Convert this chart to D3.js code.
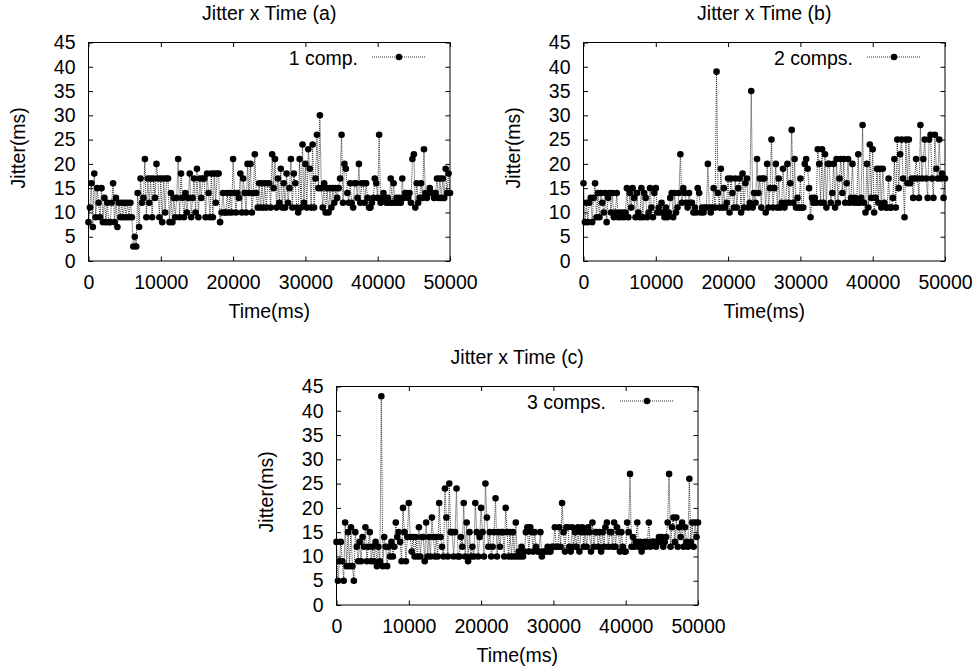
<!DOCTYPE html>
<html>
<head>
<meta charset="utf-8">
<script src="https://cdn.jsdelivr.net/npm/d3@7"></script>
<style>
  body { margin: 0; background: #fff; }
  svg { display: block; }
  text { font-family: "Liberation Sans", Arial, Helvetica, sans-serif; fill: #000; }
</style>
</head>
<body>
<script>
// jitter samples, one every 200 ms from 0 to 50000 ms
const sampleStepMs = 200;

const jitterA = [
  8, 11, 16, 7, 18,   9, 15, 12, 9, 15,   8, 13, 8, 12, 8,    8, 12, 16, 8, 13,   7, 12, 9, 12, 9,
  12, 9, 12, 9, 12,   9, 3, 5, 3, 14,     7, 17, 12, 13, 21,  9, 17, 12, 17, 9,   17, 13, 20, 17, 9,
  17, 8, 17, 10, 17,  17, 8, 14, 8, 13,   9, 13, 21, 9, 18,   13, 9, 14, 10, 13,  18, 9, 13, 17, 10,
  19, 9, 17, 13, 17,  17, 9, 18, 14, 9,   18, 9, 18, 12, 18,  18, 8, 10, 14, 10,  10, 14, 10, 14, 10,
  21, 14, 10, 14, 13, 18, 10, 17, 14, 10, 20, 14, 20, 10, 14, 22, 14, 11, 16, 11, 16, 11, 16, 11, 16,
  16, 11, 22, 15, 21, 11, 17, 12, 19, 11, 16, 11, 18, 12, 15, 21, 11, 18, 16, 11, 10, 21, 11, 24, 12,
  20, 11, 23, 19, 11, 24, 11, 17, 26, 15, 30, 15, 11, 16, 10, 15, 10, 15, 11, 15, 12, 15, 13, 15, 17,
  26, 12, 20, 19, 14, 12, 16, 12, 11, 16, 16, 13, 20, 12, 16, 16, 12, 16, 13, 11, 11, 12, 13, 17, 16,
  13, 26, 12, 13, 14, 13, 12, 13, 12, 17, 12, 16, 12, 13, 12, 13, 12, 17, 13, 14, 14, 13, 14, 12, 21,
  22, 11, 16, 12, 13, 16, 13, 23, 14, 13, 14, 15, 14, 14, 13, 14, 17, 13, 17, 13, 17, 13, 19, 14, 18,
  14
];

const jitterB = [
  16, 8, 12, 8, 12,   13, 8, 13, 16, 9,   14, 9, 14, 12, 10,  14, 8, 13, 14, 10,  14, 9, 10, 14, 9,
  10, 9, 10, 9, 10,   15, 9, 14, 11, 15,  13, 9, 14, 10, 9,   15, 9, 14, 13, 9,   10, 15, 11, 9, 14,
  15, 10, 11, 10, 12, 10, 9, 11, 9, 10,   13, 14, 9, 14, 10,  11, 14, 22, 12, 15, 14, 12, 11, 14, 12,
  12, 10, 11, 10, 15, 14, 10, 11, 10, 11, 11, 20, 11, 10, 11, 15, 11, 39, 14, 11, 19, 11, 15, 11, 12,
  17, 10, 17, 14, 11, 17, 11, 15, 17, 10, 18, 11, 16, 17, 11, 12, 35, 11, 14, 12, 21, 14, 17, 11, 17,
  17, 10, 20, 11, 15, 25, 11, 15, 20, 11, 17, 11, 12, 19, 11, 12, 20, 12, 16, 27, 12, 21, 11, 13, 11,
  17, 11, 11, 20, 21, 19, 15, 9, 13, 12,  13, 12, 23, 20, 12, 23, 12, 22, 11, 20, 20, 12, 14, 20, 11,
  21, 12, 17, 21, 14, 21, 12, 16, 21, 12, 13, 20, 12, 13, 12, 22, 12, 13, 28, 12, 10, 20, 11, 24, 13,
  23, 10, 13, 19, 12, 19, 11, 19, 12, 11, 11, 17, 11, 11, 13, 21, 11, 25, 15, 22, 25, 17, 9, 25, 16,
  25, 16, 17, 13, 17, 21, 17, 13, 28, 17, 21, 25, 17, 13, 25, 26, 17, 13, 26, 19, 17, 25, 17, 18, 13,
  17
];

const jitterC = [
  13, 5, 9, 13, 9,    5, 17, 8, 15, 8,    16, 8, 5, 15, 12,   9, 13, 9, 14, 12,   16, 9, 12, 15, 9,
  12, 9, 13, 8, 12,   9, 43, 8, 14, 12,   8, 12, 10, 13, 10,  12, 17, 14, 15, 13, 9, 20, 15, 9, 14,
  21, 14, 11, 14, 10, 14, 10, 16, 10, 14, 14, 9, 17, 10, 14,  10, 18, 14, 10, 14, 10, 21, 14, 12, 10,
  24, 18, 10, 25, 15, 15, 10, 15, 24, 10, 10, 14, 12, 21, 10, 17, 9, 15, 10, 12,  10, 21, 15, 10, 14,
  20, 15, 10, 25, 18, 12, 15, 10, 12, 15, 22, 10, 15, 12, 15, 15, 10, 20, 15, 10, 15, 10, 15, 10, 17,
  10, 11, 10, 12, 10, 11, 15, 16, 11, 16, 15, 11, 15, 12, 11, 11, 15, 10, 11, 11, 11, 12, 11, 11, 12,
  12, 16, 12, 12, 16, 12, 21, 15, 11, 16, 16, 12, 11, 16, 12, 15, 12, 16, 11, 15, 16, 12, 15, 12, 16,
  15, 11, 17, 12, 15, 15, 12, 15, 11, 15, 12, 16, 17, 12, 15, 15, 12, 17, 12, 16, 15, 11, 15, 12, 11,
  11, 17, 15, 27, 12, 14, 12, 13, 17, 12, 13, 11, 12, 13, 12, 13, 17, 12, 13, 13, 13, 12, 13, 14, 13,
  14, 12, 13, 14, 17, 27, 12, 16, 18, 13, 18, 12, 16, 14, 17, 12, 16, 13, 12, 26, 13, 17, 12, 17, 14,
  17
];

const xTicks = [0, 10000, 20000, 30000, 40000, 50000];
const yTicks = [0, 5, 10, 15, 20, 25, 30, 35, 40, 45];

const panels = [
  { title: 'Jitter x Time (a)', key: '1 comp.',  values: jitterA, left: 88.5,  top: 42.5 },
  { title: 'Jitter x Time (b)', key: '2 comps.', values: jitterB, left: 583.5, top: 42.5 },
  { title: 'Jitter x Time (c)', key: '3 comps.', values: jitterC, left: 336.5, top: 386.5 }
];

const plotW = 361.5, plotH = 218.5;
const fontSize = 19.5;
const tickLen = 4.5;

const svg = d3.select('body')
  .append('svg')
  .attr('width', 979)
  .attr('height', 671);

panels.forEach(p => {
  const g = svg.append('g')
    .attr('transform', 'translate(' + p.left + ',' + p.top + ')');

  const x = d3.scaleLinear().domain([0, 50000]).range([0, plotW]);
  const y = d3.scaleLinear().domain([0, 45]).range([plotH, 0]);

  const data = p.values.map((v, i) => ({ t: i * sampleStepMs, v: v }));

  // ejes: ticks hacia dentro en los cuatro lados, como gnuplot
  const bottom = g.append('g').attr('transform', 'translate(0,' + plotH + ')')
    .call(d3.axisBottom(x).tickValues(xTicks).tickSizeInner(-tickLen).tickSizeOuter(0).tickPadding(10).tickFormat(d3.format('d')));
  const top = g.append('g')
    .call(d3.axisTop(x).tickValues(xTicks).tickSizeInner(-tickLen).tickSizeOuter(0).tickFormat(''));
  const left = g.append('g')
    .call(d3.axisLeft(y).tickValues(yTicks).tickSizeInner(-tickLen).tickSizeOuter(0).tickPadding(12));
  const right = g.append('g').attr('transform', 'translate(' + plotW + ',0)')
    .call(d3.axisRight(y).tickValues(yTicks).tickSizeInner(-tickLen).tickSizeOuter(0).tickFormat(''));

  [bottom, top, left, right].forEach(a => {
    a.select('.domain').remove();
    a.selectAll('line').attr('stroke', '#000').attr('stroke-width', 1);
    a.selectAll('text')
      .style('font-size', fontSize + 'px')
      .style('font-family', '"Liberation Sans", Arial, sans-serif')
      .attr('fill', '#000');
  });
  bottom.selectAll('text').attr('dy', '0.71em').attr('y', 14);
  left.selectAll('text').attr('x', -13);

  // serie: puntos unidos con linea punteada
  const line = d3.line().x(d => x(d.t)).y(d => y(d.v));
  g.append('path')
    .datum(data)
    .attr('d', line)
    .attr('fill', 'none')
    .attr('stroke', '#333')
    .attr('stroke-width', 1)
    .attr('stroke-dasharray', '1,1');

  g.append('g')
    .selectAll('circle')
    .data(data)
    .enter()
    .append('circle')
    .attr('cx', d => x(d.t))
    .attr('cy', d => y(d.v))
    .attr('r', 3.3)
    .attr('fill', '#000');

  // borde del area de trazado
  g.append('rect')
    .attr('width', plotW)
    .attr('height', plotH)
    .attr('fill', 'none')
    .attr('stroke', '#000')
    .attr('stroke-width', 1);

  // leyenda
  g.append('text')
    .attr('x', plotW - 92)
    .attr('y', 22)
    .attr('text-anchor', 'end')
    .style('font-size', fontSize + 'px')
    .text(p.key);
  g.append('line')
    .attr('x1', plotW - 78).attr('x2', plotW - 24)
    .attr('y1', 14.5).attr('y2', 14.5)
    .attr('stroke', '#333')
    .attr('stroke-dasharray', '1,1');
  g.append('circle')
    .attr('cx', plotW - 51).attr('cy', 14.5).attr('r', 3.3)
    .attr('fill', '#000');

  // titulo y etiquetas de ejes
  g.append('text')
    .attr('x', plotW / 2)
    .attr('y', -23)
    .attr('text-anchor', 'middle')
    .style('font-size', fontSize + 'px')
    .text(p.title);

  g.append('text')
    .attr('x', plotW / 2)
    .attr('y', plotH + 57)
    .attr('text-anchor', 'middle')
    .style('font-size', fontSize + 'px')
    .text('Time(ms)');

  g.append('text')
    .attr('transform', 'translate(-64,' + (plotH / 2 - 4) + ') rotate(-90)')
    .attr('text-anchor', 'middle')
    .style('font-size', fontSize + 'px')
    .text('Jitter(ms)');
});
</script>
</body>
</html>
